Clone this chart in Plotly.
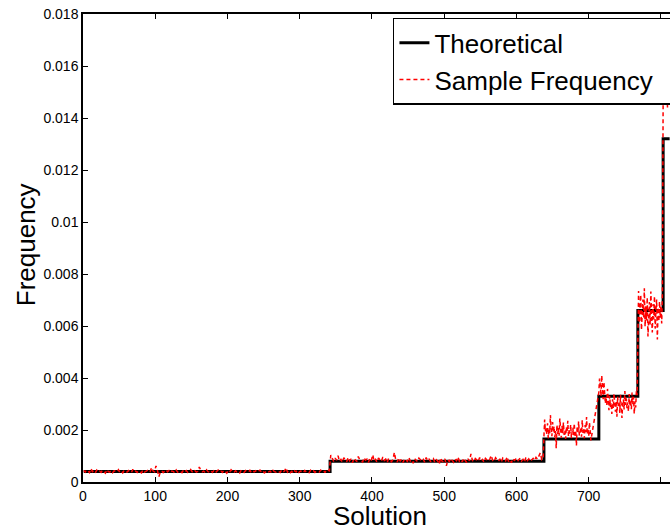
import plotly.graph_objects as go

# Theoretical step levels (solution index where each level starts, frequency)
theo_x = [1, 342, 638, 714, 768, 803, 812]
theo_y = [0.0004, 0.0008, 0.00165, 0.0033, 0.0066, 0.0132, 0.0132]

# Sample frequency, in units of 1e-5
# segment 1: solutions 1..341, every 2nd solution
seg1_start, seg1_step = 1, 2
seg1_vals = [
    44, 38, 47, 41, 36, 52, 40, 43, 35, 46,
    39, 42, 37, 45, 41, 34, 48, 40, 38, 44,
    36, 43, 41, 39, 47, 37, 42, 35, 45, 40,
    38, 44, 41, 36, 49, 39, 42, 37, 43, 40,
    35, 46, 38, 41, 44, 37, 40, 56, 42, 39,
    62, 45, 20, 38, 43, 36, 41, 47, 39, 44,
    37, 42, 40, 35, 46, 38, 43, 41, 36, 45,
    39, 44, 37, 42, 48, 40, 36, 43, 38, 41,
    58, 45, 39, 42, 36, 47, 40, 38, 44, 37,
    43, 35, 41, 46, 39, 42, 37, 45, 40, 34,
    44, 38, 47, 41, 36, 43, 39, 42, 35, 46,
    40, 37, 44, 41, 38, 45, 36, 42, 39, 43,
    37, 41, 46, 38, 43, 35, 40, 44, 39, 42,
    36, 45, 40, 38, 43, 41, 37, 46, 39, 42,
    55, 38, 44, 36, 41, 33, 43, 39, 46, 37,
    42, 40, 35, 44, 38, 41, 36, 45, 39, 43,
    37, 42, 40, 38, 46, 41, 44, 36, 48, 45,
    43,
]
# segment 2: solutions 343..637, every 2nd solution
seg2_start, seg2_step = 343, 2
seg2_vals = [
    104, 88, 79, 92, 84, 101, 80, 87, 76, 93,
    85, 78, 95, 82, 89, 74, 91, 83, 79, 98,
    86, 81, 77, 94, 84, 88, 75, 90, 82, 105,
    80, 87, 76, 92, 85, 79, 96, 83, 88, 74,
    91, 82, 78, 86, 114, 84, 77, 93, 80, 88,
    75, 89, 83, 79, 95, 81, 86, 72, 90, 84,
    78, 92, 85, 80, 87, 76, 94, 82, 88, 79,
    84, 90, 75, 86, 81, 68, 93, 80, 77, 89,
    62, 85, 79, 91, 83, 76, 88, 82, 97, 80,
    86, 78, 92, 84, 75, 89, 81, 108, 83, 77,
    90, 85, 79, 94, 82, 87, 76, 91, 84, 80,
    88, 102, 83, 78, 93, 85, 80, 89, 76, 92,
    84, 81, 97, 79, 86, 74, 90, 83, 88, 78,
    85, 92, 80, 87, 76, 94, 82, 89, 79, 86,
    91, 83, 95, 88, 104, 112, 86, 90,
]
# segment 3: solutions 638..713
seg3_start, seg3_step = 638, 1
seg3_vals = [
    175, 240, 195, 210, 182, 226, 168, 205, 188, 258,
    200, 176, 231, 190, 214, 172, 196, 130, 220, 185,
    207, 178, 244, 193, 170, 216, 188, 229, 181, 198,
    166, 212, 190, 235, 175, 203, 186, 221, 169, 195,
    208, 180, 226, 172, 199, 140, 215, 187, 233, 178,
    196, 211, 174, 238, 189, 204, 168, 219, 192, 250,
    183, 207, 176, 229, 195, 160,
]
# segment 4: solutions 714..767
seg4_start, seg4_step = 714, 1
seg4_vals = [
    345, 398, 372, 330, 410, 356, 318, 385, 340, 302,
    326, 295, 358, 310, 276, 332, 289, 305, 262, 318,
    284, 340, 297, 270, 312, 251, 329, 293, 308, 266,
    335, 288, 246, 302, 318, 279, 350, 296, 322, 284,
    306, 271, 338, 292, 315, 280, 344, 299, 328, 262,
    310, 287, 352, 334,
]
# segment 5: solutions 768..802
seg5_start, seg5_step = 768, 1
seg5_vals = [
    690, 735, 612, 668, 720, 585, 654, 702, 630, 745,
    598, 676, 621, 710, 560, 648, 692, 605, 733, 640,
    575, 684, 626, 715, 590, 660, 702, 548, 671, 618,
    695, 632, 680, 610, 725,
]
# segment 6: solutions 803..811
seg6_start, seg6_step = 803, 1
seg6_vals = [1480, 1620, 1550, 1700, 1530, 1660, 1440, 1590, 1640]

segments = [
    (seg1_start, seg1_step, seg1_vals),
    (seg2_start, seg2_step, seg2_vals),
    (seg3_start, seg3_step, seg3_vals),
    (seg4_start, seg4_step, seg4_vals),
    (seg5_start, seg5_step, seg5_vals),
    (seg6_start, seg6_step, seg6_vals),
]
sample_x, sample_y = [], []
for start, step, vals in segments:
    for i, v in enumerate(vals):
        sample_x.append(start + step * i)
        sample_y.append(v * 1e-5)

x_ticks = [0, 100, 200, 300, 400, 500, 600, 700, 800]
y_ticks = [0, 0.002, 0.004, 0.006, 0.008, 0.01, 0.012, 0.014, 0.016, 0.018]
y_tick_labels = ["0", "0.002", "0.004", "0.006", "0.008", "0.01", "0.012",
                 "0.014", "0.016", "0.018"]

FONT = "Liberation Sans, Arial, Helvetica, sans-serif"
NBSP = "\u00a0"

fig = go.Figure()
fig.add_trace(go.Scatter(
    x=theo_x, y=theo_y, mode="lines", name="Theoretical",
    line=dict(color="black", width=3, shape="hv"),
))
fig.add_trace(go.Scatter(
    x=sample_x, y=sample_y, mode="lines",
    name="Sample Frequency" + NBSP * 4,
    line=dict(color="#ff0000", width=1.5, dash="4px,3px"),
))

fig.update_layout(
    width=670, height=529,
    margin=dict(l=83, r=0, t=14, b=47, autoexpand=False),
    paper_bgcolor="white", plot_bgcolor="white",
    font=dict(family=FONT, color="black"),
    showlegend=True,
    legend=dict(
        x=0.528, y=0.992, xanchor="left", yanchor="top",
        bgcolor="white", bordercolor="black", borderwidth=1.5,
        font=dict(size=26, family=FONT, color="black"),
        tracegroupgap=0,
    ),
    xaxis=dict(
        range=[0, 812.5], tickvals=x_ticks,
        ticks="inside", ticklen=5, tickwidth=1, tickcolor="black",
        showline=True, linecolor="black", linewidth=1.5, mirror="ticks",
        showgrid=False, zeroline=False,
        tickfont=dict(size=14, family=FONT, color="black"),
    ),
    yaxis=dict(
        range=[0, 0.018], tickvals=y_ticks, ticktext=y_tick_labels,
        ticks="inside", ticklen=5, tickwidth=1, tickcolor="black",
        showline=True, linecolor="black", linewidth=1.5,
        showgrid=False, zeroline=False,
        tickfont=dict(size=14, family=FONT, color="black"),
    ),
    annotations=[
        dict(text="Solution", xref="paper", yref="paper",
             x=0.506, y=-0.0726, xanchor="center", yanchor="middle",
             showarrow=False, font=dict(size=26, family=FONT, color="black")),
        dict(text="Frequency", xref="paper", yref="paper",
             x=-0.097, y=0.506, xanchor="center", yanchor="middle",
             textangle=-90, showarrow=False,
             font=dict(size=26, family=FONT, color="black")),
    ],
)

fig.write_html(
    "out.html",
    config={"displayModeBar": False},
    post_script="document.body.style.margin='0';document.body.style.overflow='hidden';",
)
